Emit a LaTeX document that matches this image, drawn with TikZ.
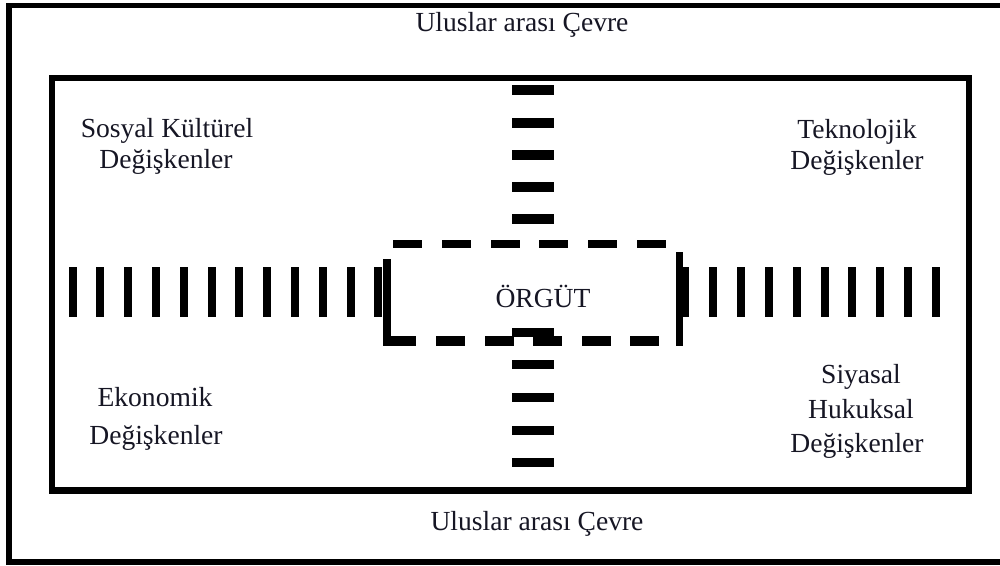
\documentclass[tikz,border=0pt]{standalone}
\usepackage{fontspec}
\setmainfont{Liberation Serif}
\definecolor{txt}{RGB}{22,22,36}
\begin{document}
\begin{tikzpicture}[x=0.02cm,y=-0.02cm,
  lbl/.style={font=\fontsize{15.7}{18}\selectfont, anchor=base, inner sep=0pt, text=txt},
  outerframe/.style={draw=black, line width=3.1pt},
  innerframe/.style={draw=black, line width=3.7pt},
  bar/.style={fill=black}]
\useasboundingbox (0,0) rectangle (1000,565);

% outer and inner environment frames
\draw[outerframe] (9,5.5) rectangle (1012,562);
\draw[innerframe] (52,78) rectangle (969,490.5);

% vertical chains of bars above and below the centre
\foreach \y in {90,122.5,154.5,187,219}
  \fill[bar] (512,\y-5) rectangle (554,\y+5);
\foreach \y in {332.5,364.5,397.5,430,462.5}
  \fill[bar] (512,\y-4.5) rectangle (554,\y+4.5);

% horizontal chains of bars left and right of the centre
\foreach \i in {0,...,11}
  \fill[bar] ({72.5+27.8*\i-4},267) rectangle ({72.5+27.8*\i+4},317);
\foreach \i in {0,...,9}
  \fill[bar] ({685.3+27.85*\i-4},267) rectangle ({685.3+27.85*\i+4},317);

% dashed organisation box
\foreach \x in {393,442,491,539,588,637}
  \fill[bar] (\x,240) rectangle (\x+29,248);
\foreach \x in {436,485,533,582,630}
  \fill[bar] (\x,336) rectangle (\x+28.5,346);
\fill[bar] (384,336) rectangle (416,346);
\fill[bar] (383,259) rectangle (391,346);
\fill[bar] (676,252) rectangle (683,346);
\node[lbl] (org) at (543,307) {ÖRGÜT};

% environment labels
\node[lbl] (intTop) at (522,31) {Uluslar arası Çevre};
\node[lbl] (intBot) at (537,530) {Uluslar arası Çevre};

\node[lbl] (sos1) at (167,137) {Sosyal Kültürel};
\node[lbl] (sos2) at (166,168) {Değişkenler};

\node[lbl] (tek1) at (857,138) {Teknolojik};
\node[lbl] (tek2) at (857,169) {Değişkenler};

\node[lbl] (eko1) at (155,406) {Ekonomik};
\node[lbl] (eko2) at (156,444) {Değişkenler};

\node[lbl] (siy1) at (861,383) {Siyasal};
\node[lbl] (siy2) at (861,418) {Hukuksal};
\node[lbl] (siy3) at (857,452) {Değişkenler};
\end{tikzpicture}
\end{document}
